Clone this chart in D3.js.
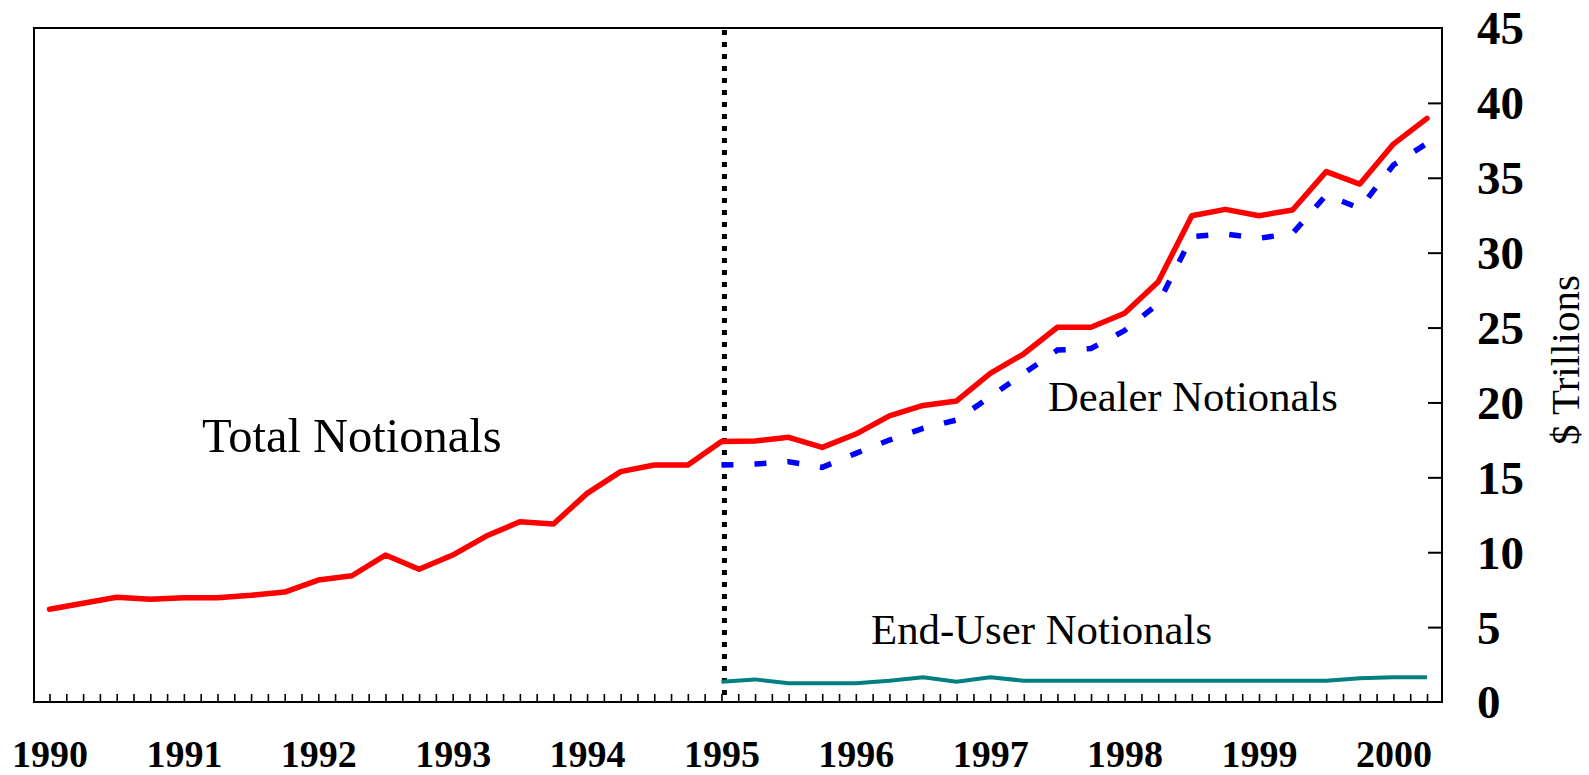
<!DOCTYPE html>
<html>
<head>
<meta charset="utf-8">
<script src="https://cdn.jsdelivr.net/npm/d3@7"></script>
<style>
  html, body { margin: 0; padding: 0; background: #fff; }
  svg { display: block; }
</style>
</head>
<body>
<svg id="chart" width="1589" height="775"></svg>
<script>
// ---- Data (quarterly, $ trillions) ----
const startYear = 1990;
const totalNotionals = [
  6.19, 6.59, 6.99, 6.86,
  6.96, 6.96, 7.12, 7.34,
  8.14, 8.43, 9.81, 8.86,
  9.81, 11.08, 12.04, 11.88,
  13.93, 15.38, 15.82, 15.82,
  17.40, 17.42, 17.67, 17.00,
  17.89, 19.10, 19.80, 20.10,
  21.94, 23.25, 25.02, 25.02,
  25.95, 28.06, 32.47, 32.89,
  32.47, 32.85, 35.41, 34.58,
  37.25, 38.97
];
const dealerStartYear = 1995;
const dealerNotionals = [
  15.82, 15.89, 16.04, 15.67,
  16.60, 17.49, 18.27, 18.83,
  20.38, 21.94, 23.50, 23.60,
  24.80, 26.60, 31.07, 31.25,
  30.96, 31.29, 33.85, 32.96,
  35.85, 37.30
];
const endUserNotionals = [
  1.36, 1.51, 1.25, 1.25,
  1.25, 1.42, 1.65, 1.36,
  1.65, 1.42, 1.42, 1.42,
  1.42, 1.42, 1.42, 1.42,
  1.42, 1.42, 1.42, 1.58,
  1.65, 1.65
];
const yearTicks = [1990, 1991, 1992, 1993, 1994, 1995, 1996, 1997, 1998, 1999, 2000];
const yTickValues = [0, 5, 10, 15, 20, 25, 30, 35, 40, 45];
const dividerYear = 1995;
const seriesLabels = ["Total Notionals", "Dealer Notionals", "End-User Notionals"];
const yAxisTitle = "$ Trillions";

// ---- Layout ----
const frame = { left: 34, top: 28, right: 1442, bottom: 702 };
const svg = d3.select("#chart");
const serif = "'Liberation Serif', 'Times New Roman', Times, serif";

const x = d3.scaleLinear().domain([1990, 2000.25]).range([49.5, 1427]);
const y = d3.scaleLinear().domain([0, 45]).range([frame.bottom, frame.top]);

const toPts = (arr, y0) => arr.map((v, i) => ({ t: y0 + i / 4, v }));
const line = d3.line().x(d => x(d.t)).y(d => y(d.v));

// frame
svg.append("rect")
  .attr("x", frame.left).attr("y", frame.top)
  .attr("width", frame.right - frame.left).attr("height", frame.bottom - frame.top)
  .attr("fill", "none").attr("stroke", "#000").attr("stroke-width", 2);

// bottom axis minor ticks (every 1/8 year)
const minorTicks = d3.range(0, 83).map(i => 1990 + i / 8);
const xAxis = d3.axisBottom(x).tickValues(minorTicks).tickSize(-8).tickFormat("");
const gx = svg.append("g").attr("transform", `translate(0,${frame.bottom})`).call(xAxis);
gx.select(".domain").remove();
gx.selectAll(".tick line").attr("stroke", "#000").attr("stroke-width", 1.6);

// year labels
const xLab = d3.axisBottom(x).tickValues(yearTicks).tickSize(0).tickFormat(d3.format("d"));
const gxl = svg.append("g").attr("transform", `translate(0,${frame.bottom})`).call(xLab);
gxl.select(".domain").remove();
gxl.selectAll("text")
  .attr("y", 64.5).attr("dy", 0)
  .attr("font-family", serif).attr("font-weight", "bold").attr("font-size", 38)
  .attr("fill", "#000");

// right y axis
const yAxis = d3.axisRight(y).tickValues(yTickValues).tickSize(0).tickFormat(d3.format("d"));
const gy = svg.append("g").attr("transform", `translate(${frame.right},0)`).call(yAxis);
gy.select(".domain").remove();
gy.selectAll("text")
  .attr("x", 35).attr("dy", "0.34em")
  .attr("font-family", serif).attr("font-weight", "bold").attr("font-size", 47)
  .attr("fill", "#000").attr("text-anchor", "start");
gy.selectAll(".tick").filter(d => d > 0 && d < 45).append("line")
  .attr("x1", -14).attr("x2", 0).attr("stroke", "#000").attr("stroke-width", 2);

// y axis title
svg.append("text")
  .attr("transform", `translate(1578.5,360) rotate(-90)`)
  .attr("text-anchor", "middle")
  .attr("font-family", serif).attr("font-size", 41).attr("fill", "#000")
  .text(yAxisTitle);

// divider dotted line
svg.append("line")
  .attr("x1", x(dividerYear) + 3).attr("x2", x(dividerYear) + 3)
  .attr("y1", frame.top + 2).attr("y2", frame.bottom - 2)
  .attr("stroke", "#000").attr("stroke-width", 5).attr("stroke-dasharray", "5,7");

// series lines
svg.append("path").datum(toPts(endUserNotionals, dealerStartYear))
  .attr("d", line).attr("fill", "none")
  .attr("stroke", "#008080").attr("stroke-width", 4);

svg.append("path").datum(toPts(dealerNotionals, dealerStartYear))
  .attr("d", line).attr("fill", "none")
  .attr("stroke", "#0000ff").attr("stroke-width", 5.5)
  .attr("stroke-dasharray", "12,21");

svg.append("path").datum(toPts(totalNotionals, startYear))
  .attr("d", line).attr("fill", "none")
  .attr("stroke", "#ff0000").attr("stroke-width", 5.5)
  .attr("stroke-linejoin", "round").attr("stroke-linecap", "round");

// series labels
const labelPos = [
  { x: 202, y: 452, size: 48.5 },
  { x: 1048, y: 411, size: 42.6 },
  { x: 871, y: 644, size: 42.8 }
];
seriesLabels.forEach((s, i) => {
  svg.append("text")
    .attr("x", labelPos[i].x).attr("y", labelPos[i].y)
    .attr("font-family", serif).attr("font-size", labelPos[i].size).attr("fill", "#000")
    .text(s);
});
</script>
</body>
</html>
